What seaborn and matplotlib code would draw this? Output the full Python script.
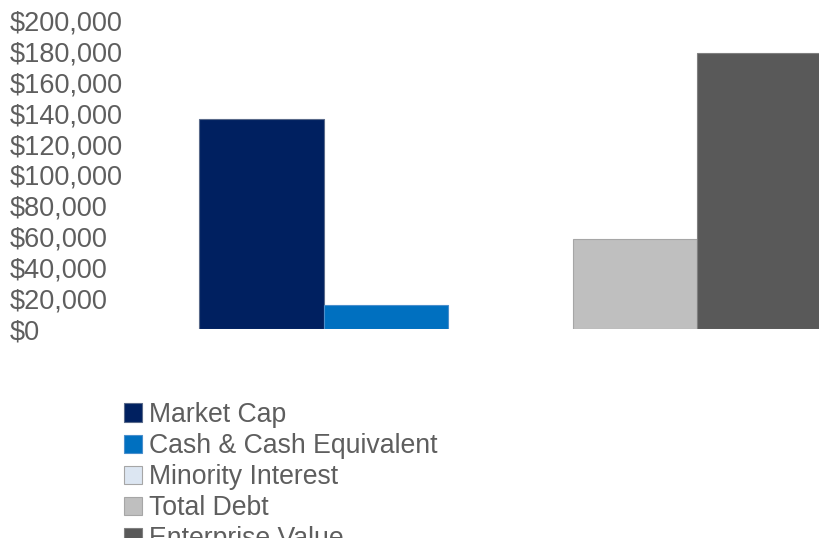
import matplotlib
matplotlib.use("Agg")
import matplotlib.pyplot as plt
from matplotlib.patches import Patch
from matplotlib.ticker import FuncFormatter
import pandas as pd
import seaborn as sns

# Enterprise value bridge components (USD)
series = ["Market Cap", "Cash & Cash Equivalent", "Minority Interest",
          "Total Debt", "Enterprise Value"]
values = [136400, 15600, 0, 58400, 179200]
colors = ["#002060", "#0070C0", "#DCE6F2", "#BFBFBF", "#595959"]
edges = ["#5A6A8A", "#4A8FCC", "#A6A6A6", "#A6A6A6", "#808080"]
y_ticks = list(range(0, 200001, 20000))

sns.set_theme(style="white")
plt.rcParams["font.family"] = ["Liberation Sans", "DejaVu Sans"]
text_color = "#5E5E5E"

fig = plt.figure(figsize=(8.19, 5.38), dpi=100)
W, H = 819, 538
ax = fig.add_axes([124 / W, (H - 329) / H, (W - 124) / W, (329 - 21) / H])

df = pd.DataFrame({"series": series, "value": values})
sns.barplot(data=df, x="series", y="value", hue="series", palette=colors,
            width=1.0, dodge=False, legend=False, ax=ax, saturation=1)

for bar, ec in zip(ax.patches, edges):
    bar.set_edgecolor(ec)
    bar.set_linewidth(0.8 if bar.get_height() > 0 else 0)

ax.set_ylim(0, 200000)
ax.set_yticks(y_ticks)
ax.yaxis.set_major_formatter(FuncFormatter(lambda v, _: f"${v:,.0f}"))
ax.set_xlim(-0.5 - 75 / 124.6, 4.5 - 3 / 124.6)
ax.set_xticks([])
ax.set_xlabel("")
ax.set_ylabel("")
# left-aligned tick labels starting near the figure edge
ax.tick_params(axis="y", length=0, pad=(124 - 10) * 0.72, labelsize=19.5,
               labelcolor=text_color)
for lbl in ax.get_yticklabels():
    lbl.set_horizontalalignment("left")
for s in ax.spines.values():
    s.set_visible(False)
ax.grid(False)

# legend stacked below the plot; the last entry runs past the bottom edge
handles = [Patch(facecolor=c, edgecolor=e, linewidth=0.8) for c, e in zip(colors, edges)]
fig.legend(handles, series, loc="upper left",
           bbox_to_anchor=(124 / W, (H - 402) / H), bbox_transform=fig.transFigure,
           frameon=False, fontsize=19.2, labelcolor=text_color,
           handlelength=0.68, handleheight=0.68, handletextpad=0.24,
           labelspacing=0.19, borderpad=0, borderaxespad=0)

fig.savefig("out.png", dpi=100)
